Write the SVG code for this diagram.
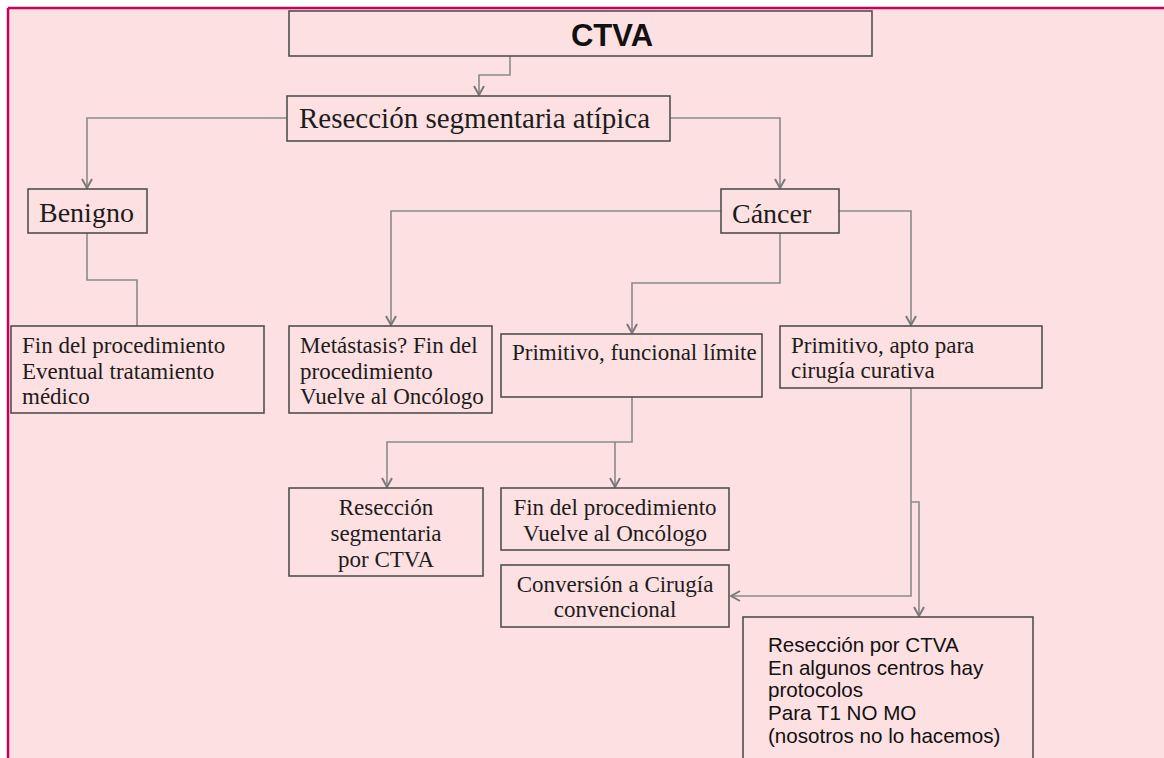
<svg xmlns="http://www.w3.org/2000/svg" width="1164" height="758" viewBox="0 0 1164 758">
<style>
.box{fill:none;stroke:#505050;stroke-width:1.6}
.con{fill:none;stroke:#8a8a8a;stroke-width:1.6}
.s{font-family:"Liberation Serif","Times New Roman",serif;fill:#1c1c1c;font-size:23px}
.s28{font-size:28px}
.s29{font-size:29px}
.a{font-family:"Liberation Sans",Arial,sans-serif;fill:#111;font-size:20.6px}
</style>
<defs>
<marker id="ar" markerUnits="userSpaceOnUse" viewBox="0 0 12 12" refX="11" refY="6" markerWidth="12" markerHeight="12" orient="auto">
<path d="M2,1 L11,6 L2,11" fill="none" stroke="#7a7a7a" stroke-width="2"/>
</marker>
</defs>
<rect x="0" y="0" width="1164" height="758" fill="#ffffff"/>
<rect x="8" y="8" width="1156" height="750" fill="#fde0e2"/>
<line x1="8" y1="8" x2="1164" y2="8" stroke="#c8005c" stroke-width="2.5"/>
<line x1="8" y1="8" x2="8" y2="758" stroke="#c8005c" stroke-width="2.5"/>

<g id="connectors">
<path class="con" d="M510,56 V75 H479 V95" marker-end="url(#ar)"/>
<path class="con" d="M287,118 H87 V188" marker-end="url(#ar)"/>
<path class="con" d="M670,118 H780 V188" marker-end="url(#ar)"/>
<path class="con" d="M721,211 H391 V325" marker-end="url(#ar)"/>
<path class="con" d="M780,233 V283 H632 V333" marker-end="url(#ar)"/>
<path class="con" d="M839,211 H911 V325" marker-end="url(#ar)"/>
<path class="con" d="M87,233 V280 H137 V326"/>
<path class="con" d="M632,397 V442 H387 V487" marker-end="url(#ar)"/>
<path class="con" d="M615,442 V487" marker-end="url(#ar)"/>
<path class="con" d="M911,388 V596 H731" marker-end="url(#ar)"/>
<path class="con" d="M911,502 H919 V616" marker-end="url(#ar)"/>
</g>

<g id="n-ctva">
<rect class="box" x="289" y="11" width="583" height="45"/>
<text x="612" y="46" text-anchor="middle" font-family="Liberation Sans, Arial, sans-serif" font-weight="bold" font-size="31" fill="#111">CTVA</text>
</g>
<g id="n-reseccion">
<rect class="box" x="287" y="96" width="383" height="45"/>
<text class="s s29" x="299" y="128">Resección segmentaria atípica</text>
</g>
<g id="n-benigno">
<rect class="box" x="28" y="189" width="119" height="44"/>
<text class="s s28" x="39" y="222">Benigno</text>
</g>
<g id="n-cancer">
<rect class="box" x="721" y="189" width="118" height="44"/>
<text class="s s28" x="732" y="223">Cáncer</text>
</g>
<g id="n-fin1">
<rect class="box" x="11" y="326" width="253" height="87"/>
<text class="s" x="22" y="353">Fin del procedimiento</text>
<text class="s" x="22" y="379">Eventual tratamiento</text>
<text class="s" x="22" y="404">médico</text>
</g>
<g id="n-metastasis">
<rect class="box" x="289" y="326" width="203" height="87"/>
<text class="s" x="300" y="353">Metástasis? Fin del</text>
<text class="s" x="300" y="379">procedimiento</text>
<text class="s" x="300" y="404">Vuelve al Oncólogo</text>
</g>
<g id="n-funcional">
<rect class="box" x="501" y="334" width="261" height="63"/>
<text class="s" x="512" y="360">Primitivo, funcional límite</text>
</g>
<g id="n-apto">
<rect class="box" x="780" y="326" width="262" height="62"/>
<text class="s" x="791" y="353">Primitivo, apto para</text>
<text class="s" x="791" y="378">cirugía curativa</text>
</g>
<g id="n-segm">
<rect class="box" x="289" y="488" width="194" height="88"/>
<text class="s" x="386" y="515" text-anchor="middle">Resección</text>
<text class="s" x="386" y="541" text-anchor="middle">segmentaria</text>
<text class="s" x="386" y="567" text-anchor="middle">por CTVA</text>
</g>
<g id="n-fin2">
<rect class="box" x="501" y="488" width="228" height="62"/>
<text class="s" x="615" y="515" text-anchor="middle">Fin del procedimiento</text>
<text class="s" x="615" y="541" text-anchor="middle">Vuelve al Oncólogo</text>
</g>
<g id="n-conversion">
<rect class="box" x="501" y="565" width="228" height="62"/>
<text class="s" x="615" y="592" text-anchor="middle">Conversión a Cirugía</text>
<text class="s" x="615" y="617" text-anchor="middle">convencional</text>
</g>
<g id="n-final">
<rect class="box" x="743" y="617" width="290" height="160"/>
<text class="a" x="768" y="652">Resección por CTVA</text>
<text class="a" x="768" y="675">En algunos centros hay</text>
<text class="a" x="768" y="697">protocolos</text>
<text class="a" x="768" y="720">Para T1 NO MO</text>
<text class="a" x="768" y="743">(nosotros no lo hacemos)</text>
</g>
</svg>
